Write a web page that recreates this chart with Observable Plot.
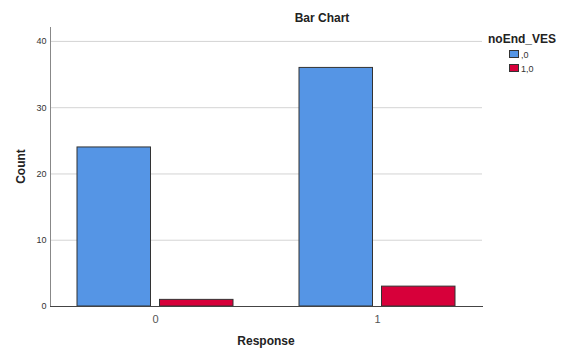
<!DOCTYPE html>
<html><head><meta charset="utf-8">
<script src="https://cdn.jsdelivr.net/npm/d3@7"></script>
<script src="https://cdn.jsdelivr.net/npm/@observablehq/plot@0.6"></script>
<style>
body{margin:0;background:#fff;}
#chart{width:564px;height:349px;}
#chart svg{font-family:"Liberation Sans",Arial,sans-serif;}
</style></head><body><div id="chart"></div>
<script>
// Data
const categories = ["0", "1"];            // Response
const seriesNames = [",0", "1,0"];        // noEnd_VES
const countsSeries0 = [24, 36];           // noEnd_VES = ,0
const countsSeries1 = [1, 3];             // noEnd_VES = 1,0
const yTicks = [0, 10, 20, 30, 40];
const colors = ["#5595e5", "#d7003a"];

const table = [];
categories.forEach((c, i) => {
  table.push({response: c, series: seriesNames[0], count: countsSeries0[i]});
  table.push({response: c, series: seriesNames[1], count: countsSeries1[i]});
});

const W = 564, H = 349;
const svg = Plot.plot({
  width: W, height: H,
  marginLeft: 50, marginRight: 82, marginTop: 27, marginBottom: 43,
  style: {fontFamily: '"Liberation Sans", Arial, sans-serif', background: "#fff"},
  x: {type: "band", domain: categories, paddingInner: 0.296, paddingOuter: 0.117},
  y: {domain: [0, 42.1]},
  color: {domain: seriesNames, range: colors},
  marks: [
    Plot.gridY({ticks: yTicks.filter(t => t > 0), stroke: "#d4d4d4", strokeOpacity: 1}),
    Plot.barY(table.filter(d => d.series === seriesNames[0]), {x: "response", y: "count", fill: "series", stroke: "#333", strokeWidth: 1, insetRight: 82.5}),
    Plot.barY(table.filter(d => d.series === seriesNames[1]), {x: "response", y: "count", fill: "series", stroke: "#333", strokeWidth: 1, insetLeft: 82.5}),
    Plot.frame({anchor: "left", stroke: "#888"}),
    Plot.frame({anchor: "bottom", stroke: "#444"}),
    Plot.axisY({ticks: yTicks, tickSize: 0, tickPadding: 4, fontSize: 9, fill: "#333", label: null}),
    Plot.axisX({tickSize: 0, tickPadding: 9, fontSize: 11, fill: "#555", label: null})
  ]
});
document.getElementById("chart").appendChild(svg);

const s = d3.select(svg);
const font = '"Liberation Sans", Arial, sans-serif';
s.append("text").attr("x", 322).attr("y", 22).attr("text-anchor", "middle")
  .attr("font-weight", "bold").attr("font-size", 12).attr("font-family", font).attr("fill", "#222").text("Bar Chart");
s.append("text").attr("x", 266).attr("y", 345).attr("text-anchor", "middle")
  .attr("font-weight", "bold").attr("font-size", 12).attr("font-family", font).attr("fill", "#222").text("Response");
s.append("text").attr("transform", "translate(25,166.5) rotate(-90)").attr("text-anchor", "middle")
  .attr("font-weight", "bold").attr("font-size", 12).attr("font-family", font).attr("fill", "#222").text("Count");
// Legend
s.append("text").attr("x", 488).attr("y", 43).attr("text-anchor", "start")
  .attr("font-weight", "bold").attr("font-size", 12).attr("font-family", font).attr("fill", "#222").text("noEnd_VES");
seriesNames.forEach((name, i) => {
  const y0 = 50 + i * 14;
  s.append("rect").attr("x", 509.5).attr("y", y0 + 0.5).attr("width", 9).attr("height", 7)
    .attr("fill", colors[i]).attr("stroke", "#333").attr("stroke-width", 1);
  s.append("text").attr("x", 521).attr("y", y0 + 7.5).attr("text-anchor", "start")
    .attr("font-size", 9).attr("font-family", font).attr("fill", "#333").text(name);
});
</script>
</body></html>
